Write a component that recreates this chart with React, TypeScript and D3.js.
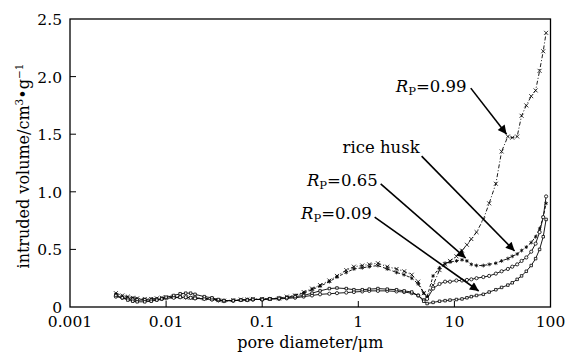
import {
  line,
  scaleLinear,
  scaleLog,
  select,
  symbol,
  symbolAsterisk,
  symbolCircle,
  symbolSquare2,
  symbolTimes
} from 'd3';
import { useEffect, useRef } from 'react';

// pore diameter (um) of the intrusion steps
const poreDiameter = [
  0.003, 0.0035, 0.004, 0.0045, 0.005, 0.006, 0.007, 0.008, 0.009, 0.01,
  0.012, 0.014, 0.016, 0.018, 0.02, 0.025, 0.03, 0.035, 0.04, 0.05,
  0.06, 0.07, 0.08, 0.1, 0.12, 0.15, 0.18, 0.22, 0.27, 0.33,
  0.4, 0.5, 0.6, 0.75, 0.9, 1.1, 1.3, 1.6, 2.0, 2.5,
  3.0, 3.6, 4.2, 4.8, 5.2, 6, 7, 8, 9, 10.5,
  12, 13.5, 15, 17, 20, 23, 27, 31, 36, 40,
  45, 50, 56, 63, 70, 77, 84, 90
];

// intruded volume, cm3/g
const volRp099 = [
  0.12, 0.1, 0.09, 0.08, 0.075, 0.07, 0.07, 0.075, 0.08, 0.085,
  0.09, 0.09, 0.085, 0.08, 0.08, 0.075, 0.07, 0.06, 0.055, 0.06,
  0.065, 0.065, 0.07, 0.07, 0.07, 0.075, 0.09, 0.1, 0.13, 0.16,
  0.19, 0.23, 0.27, 0.32, 0.35, 0.36, 0.37, 0.38, 0.35, 0.33,
  0.31, 0.28, 0.22, 0.12, 0.08, 0.19, 0.32, 0.37, 0.4, 0.44,
  0.49, 0.54, 0.59, 0.65, 0.76, 0.9, 1.07, 1.35, 1.48, 1.47,
  1.48, 1.66, 1.75, 1.83, 1.88, 2.05, 2.22, 2.38
];
const volRp065 = [
  0.11, 0.09, 0.08, 0.075, 0.07, 0.065, 0.07, 0.07, 0.075, 0.08,
  0.085, 0.085, 0.08, 0.08, 0.075, 0.07, 0.065, 0.055, 0.05, 0.055,
  0.06, 0.065, 0.065, 0.07, 0.07, 0.08, 0.085, 0.1, 0.12, 0.15,
  0.18, 0.22, 0.26, 0.3, 0.33, 0.34, 0.35, 0.36, 0.33, 0.3,
  0.28, 0.25, 0.2, 0.12, 0.09, 0.27, 0.34, 0.38, 0.39, 0.4,
  0.41, 0.4, 0.37, 0.36, 0.36, 0.37, 0.38, 0.4, 0.42, 0.44,
  0.46, 0.49, 0.52, 0.56, 0.61, 0.68, 0.78, 0.9
];
const volRiceHusk = [
  0.09, 0.08, 0.07, 0.065, 0.06, 0.06, 0.06, 0.065, 0.07, 0.075,
  0.08, 0.085, 0.085, 0.08, 0.075, 0.07, 0.065, 0.06, 0.055, 0.055,
  0.06, 0.06, 0.065, 0.065, 0.07, 0.07, 0.075, 0.08, 0.09, 0.1,
  0.11, 0.115, 0.12, 0.125, 0.13, 0.135, 0.14, 0.14, 0.14, 0.135,
  0.13, 0.12, 0.1, 0.06, 0.07, 0.16, 0.2, 0.22, 0.22, 0.23,
  0.23, 0.235, 0.24, 0.25, 0.26, 0.27, 0.29, 0.31, 0.33, 0.35,
  0.37, 0.4, 0.43, 0.48, 0.55, 0.65, 0.78, 0.96
];
const volRp009 = [
  0.1, 0.08, 0.06, 0.05, 0.045, 0.045, 0.05, 0.06, 0.07, 0.085,
  0.1, 0.115, 0.12, 0.12, 0.11, 0.09, 0.08, 0.065, 0.055, 0.055,
  0.06, 0.06, 0.065, 0.065, 0.07, 0.075, 0.08, 0.09, 0.1, 0.12,
  0.14, 0.16, 0.165, 0.16, 0.15, 0.15, 0.155, 0.16, 0.155, 0.15,
  0.14, 0.13, 0.1, 0.05, 0.03, 0.04, 0.05, 0.055, 0.06, 0.065,
  0.07, 0.08, 0.09, 0.1, 0.11, 0.13, 0.15, 0.17, 0.19, 0.21,
  0.24, 0.27, 0.31, 0.36, 0.42, 0.5, 0.61, 0.76
];

const xTicks = [0.001, 0.01, 0.1, 1, 10, 100];
const xTickLabels = ['0.001', '0.01', '0.1', '1', '10', '100'];
const yTicks = [0, 0.5, 1.0, 1.5, 2.0, 2.5];
const yTickLabels = ['0', '0.5', '1.0', '1.5', '2.0', '2.5'];

// annotations (data coords): label end, arrow tail, arrow head
const noteText = ['0.99', 'rice husk', '0.65', '0.09'];
const noteLabel = [[13.4, 1.866], [4.35, 1.337], [1.59, 1.05], [1.38, 0.764]];
const noteFrom = [[14.8, 1.9], [4.56, 1.31], [1.71, 1.068], [1.48, 0.78]];
const noteTo = [[34.9, 1.5], [42.3, 0.486], [13.1, 0.425], [17.9, 0.139]];

const FONT = "'DejaVu Serif', serif";

function App(): JSX.Element {
  const svgRef = useRef<SVGSVGElement | null>(null);
  const width = 567;
  const height = 357;
  const margin = { top: 19, right: 16, bottom: 50, left: 70 };

  useEffect(() => {
    document.body.style.margin = '0';
    if (svgRef.current) svgRef.current.innerHTML = '';
    const svg = select(svgRef.current)
      .attr('width', width)
      .attr('height', height);

    const x = scaleLog()
      .domain([0.001, 100])
      .range([margin.left, width - margin.right - 0.5]);
    const y = scaleLinear()
      .domain([0, 2.5])
      .range([height - margin.bottom, margin.top]);

    const txt = (
      px: number,
      py: number,
      anchor: string,
      size: number,
      rot = 0
    ) =>
      svg
        .append('text')
        .attr('transform', `translate(${px},${py}) rotate(${rot})`)
        .style('font-family', FONT)
        .attr('text-anchor', anchor)
        .attr('font-size', size)
        .attr('fill', '#000');

    // frame
    svg
      .append('rect')
      .attr('x', x(0.001))
      .attr('y', y(2.5))
      .attr('width', x(100) - x(0.001))
      .attr('height', y(0) - y(2.5))
      .attr('fill', 'none')
      .attr('stroke', '#000')
      .attr('stroke-width', 1.3);

    // ticks (inside)
    xTicks.forEach((t, i) => {
      if (i > 0 && i < xTicks.length - 1) {
        svg
          .append('line')
          .attr('x1', x(t))
          .attr('x2', x(t))
          .attr('y1', y(0))
          .attr('y2', y(0) - 6)
          .attr('stroke', '#000')
          .attr('stroke-width', 1);
      }
      txt(x(t), y(0) + 20, 'middle', 15.5).text(xTickLabels[i]);
    });
    yTicks.forEach((t, i) => {
      if (i > 0 && i < yTicks.length - 1) {
        svg
          .append('line')
          .attr('x1', x(0.001))
          .attr('x2', x(0.001) + 6)
          .attr('y1', y(t))
          .attr('y2', y(t))
          .attr('stroke', '#000')
          .attr('stroke-width', 1);
      }
      txt(x(0.001) - 8, y(t) + 6, 'end', 15.5).text(yTickLabels[i]);
    });

    // axis titles
    txt((x(0.001) + x(100)) / 2, height - 9, 'middle', 16).text(
      'pore diameter/\u03bcm'
    );
    const yt = txt(29, (y(0) + y(2.5)) / 2 + 3, 'middle', 16, -90);
    yt.append('tspan').text('intruded volume/cm');
    yt.append('tspan').attr('font-size', 10.5).attr('dy', -6).text('3');
    yt.append('tspan').attr('dy', 6).text('\u2022g');
    yt.append('tspan').attr('font-size', 10.5).attr('dy', -6).text('\u22121');

    // curves
    const series = [
      { v: volRp099, dash: '4,2,1,2', sym: symbolTimes, size: 12 },
      { v: volRp065, dash: '3,2', sym: symbolAsterisk, size: 10 },
      { v: volRiceHusk, dash: '', sym: symbolCircle, size: 8 },
      { v: volRp009, dash: '', sym: symbolSquare2, size: 8 }
    ];
    const lineGen = line<number>()
      .x((_d, i) => x(poreDiameter[i]))
      .y((d) => y(d));

    series.forEach((s) => {
      svg
        .append('path')
        .datum(s.v)
        .attr('d', lineGen)
        .attr('fill', 'none')
        .attr('stroke', '#000')
        .attr('stroke-width', 0.9)
        .attr('stroke-dasharray', s.dash || null);
      const shape = symbol().type(s.sym).size(s.size)();
      s.v.forEach((val, i) => {
        svg
          .append('path')
          .attr('d', shape)
          .attr('transform', `translate(${x(poreDiameter[i])},${y(val)})`)
          .attr('fill', '#fff')
          .attr('stroke', '#000')
          .attr('stroke-width', 0.8);
      });
    });

    // arrows and labels
    svg
      .append('defs')
      .append('marker')
      .attr('id', 'head')
      .attr('viewBox', '0 0 10 10')
      .attr('refX', 10)
      .attr('refY', 5)
      .attr('markerWidth', 7)
      .attr('markerHeight', 5.5)
      .attr('markerUnits', 'strokeWidth')
      .attr('orient', 'auto')
      .append('path')
      .attr('d', 'M0,0 L10,5 L0,10 Z')
      .attr('fill', '#000');

    noteText.forEach((t, i) => {
      svg
        .append('line')
        .attr('x1', x(noteFrom[i][0]))
        .attr('y1', y(noteFrom[i][1]))
        .attr('x2', x(noteTo[i][0]))
        .attr('y2', y(noteTo[i][1]))
        .attr('stroke', '#000')
        .attr('stroke-width', 1.6)
        .attr('marker-end', 'url(#head)');
      const lbl = txt(x(noteLabel[i][0]), y(noteLabel[i][1]), 'end', 16.5);
      if (t === 'rice husk') {
        lbl.text(t);
      } else {
        lbl.append('tspan').attr('font-style', 'italic').text('R');
        lbl.append('tspan').attr('font-size', 11.5).attr('dy', 3).text('P');
        lbl.append('tspan').attr('dy', -3).text(`=${t}`);
      }
    });
  }, [margin.bottom, margin.left, margin.right, margin.top]);

  return <svg ref={svgRef} />;
}

export default App;
